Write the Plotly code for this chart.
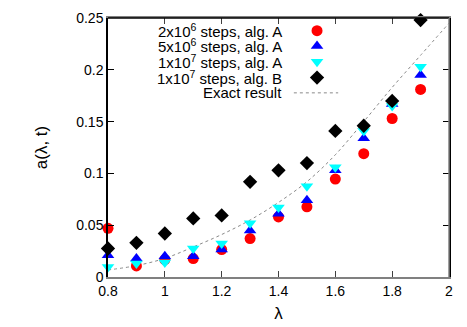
import plotly.graph_objects as go

# lambda values
lam = [0.8, 0.9, 1.0, 1.1, 1.2, 1.3, 1.4, 1.5, 1.6, 1.7, 1.8, 1.9]

# a(lambda, t) for the four runs
a_2e6_A = [0.047, 0.0107, 0.0168, 0.0178, 0.0265, 0.0371, 0.058, 0.0677, 0.0945, 0.119, 0.153, 0.181]
a_5e6_A = [0.021, 0.0178, 0.020, 0.020, 0.0265, 0.045, 0.061, 0.074, 0.103, 0.134, 0.167, 0.195]
a_1e7_A = [0.0097, 0.013, 0.014, 0.0275, 0.0323, 0.052, 0.067, 0.0877, 0.106, 0.141, 0.165, 0.203]
a_1e7_B = [0.0275, 0.033, 0.042, 0.0565, 0.0594, 0.0919, 0.103, 0.110, 0.141, 0.146, 0.170, 0.248]

# exact result curve
lam_exact = [0.8, 0.9, 1.0, 1.1, 1.2, 1.3, 1.4, 1.5, 1.6, 1.7, 1.8, 1.9, 2.0]
a_exact = [0.0068, 0.011, 0.018, 0.029, 0.041, 0.055, 0.072, 0.092, 0.118, 0.150, 0.183, 0.214, 0.245]

labels = ["2x10<sup>6</sup> steps, alg. A", "5x10<sup>6</sup> steps, alg. A",
          "1x10<sup>7</sup> steps, alg. A", "1x10<sup>7</sup> steps, alg. B",
          "Exact result"]

FONT = "Liberation Sans, Arial, sans-serif"

series = [
    (a_2e6_A, "circle", "red", 11),
    (a_5e6_A, "triangle-up", "blue", 11),
    (a_1e7_A, "triangle-down", "cyan", 11),
    (a_1e7_B, "diamond", "black", 11),
]

fig = go.Figure()

fig.add_trace(go.Scatter(x=lam_exact, y=a_exact, mode="lines", line_shape="spline",
                         line=dict(color="#8a8a8a", width=1, dash="dot"),
                         showlegend=False))
for ys, sym, col, sz in series:
    fig.add_trace(go.Scatter(x=lam, y=ys, mode="markers", cliponaxis=False,
                             marker=dict(symbol=sym, color=col, size=sz, line=dict(width=0)),
                             showlegend=False))

# hand-made legend (symbols to the right of the text, gnuplot style)
key_x = 0.613
row_y = [0.951, 0.892, 0.831, 0.770, 0.711]
for i, (ys, sym, col, sz) in enumerate(series):
    fig.add_trace(go.Scatter(x=[key_x], y=[row_y[i]], xaxis="x3", yaxis="y3", mode="markers",
                             marker=dict(symbol=sym, color=col, size=sz, line=dict(width=0)),
                             showlegend=False, hoverinfo="skip"))
fig.add_trace(go.Scatter(x=[0.545, 0.675], y=[row_y[4], row_y[4]], xaxis="x3", yaxis="y3",
                         mode="lines", line=dict(color="#8a8a8a", width=1, dash="dot"),
                         showlegend=False, hoverinfo="skip"))
for i, lab in enumerate(labels):
    fig.add_annotation(x=0.516, y=row_y[i], xref="x3", yref="y3", text=lab,
                       xanchor="right", yanchor="middle", showarrow=False,
                       font=dict(family=FONT, size=15, color="black"))

axis_common = dict(ticks="inside", ticklen=6, showgrid=False, zeroline=False,
                   showline=True, linewidth=1.5, mirror="ticks", automargin=False)

# page body has an 8px margin, so the figure is made 8px smaller on each side
fig.update_layout(
    width=459, height=319,
    margin=dict(l=100, r=18, t=10, b=50),
    plot_bgcolor="white", paper_bgcolor="white",
    font=dict(family=FONT, size=14, color="black"),
    xaxis=dict(range=[0.8, 2.0], dtick=0.2, tick0=0.8, linecolor="#808080", tickcolor="#404040",
               title=dict(text="λ", standoff=10), **axis_common),
    yaxis=dict(range=[0, 0.25], dtick=0.05, linecolor="black", tickcolor="black",
               title=dict(text="a(λ, t)", standoff=24), **axis_common),
    xaxis3=dict(overlaying="x", range=[0, 1], visible=False),
    yaxis3=dict(overlaying="y", range=[0, 1], visible=False),
)

# frame: black top edge, grey right edge (gnuplot look)
fig.add_shape(type="line", xref="paper", yref="paper", x0=0, x1=1, y0=1, y1=1,
              line=dict(color="black", width=1.5), layer="above")
fig.add_shape(type="line", xref="paper", yref="paper", x0=1, x1=1, y0=0, y1=1,
              line=dict(color="#808080", width=1.5), layer="above")

fig.write_html("out.html")
